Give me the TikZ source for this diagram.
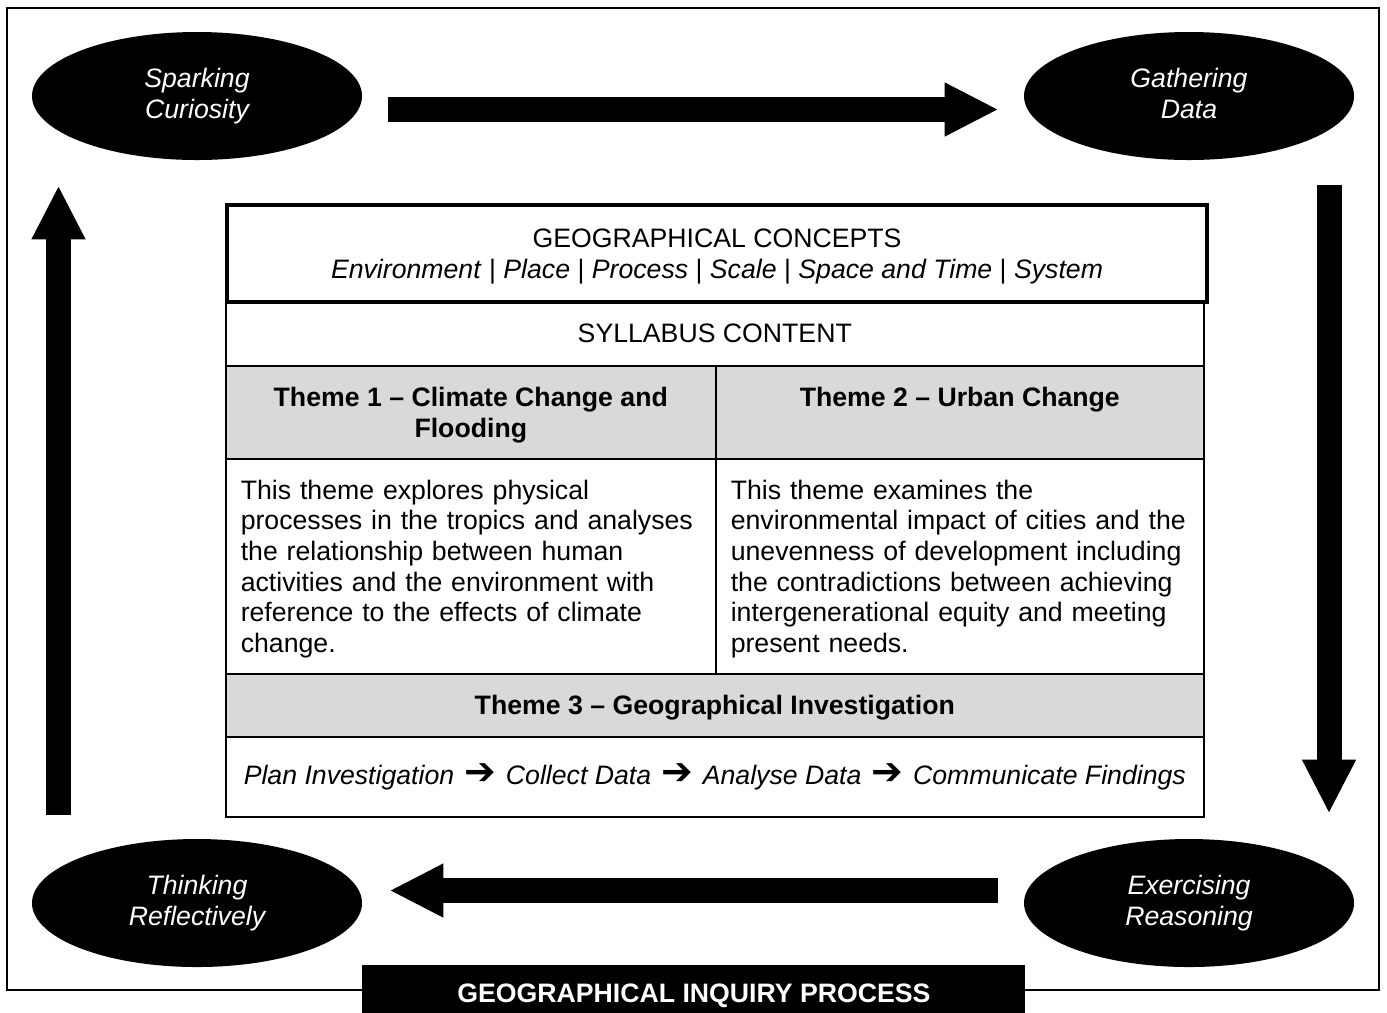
\documentclass[tikz,border=0pt]{standalone}
\usepackage{xcolor}
\usepackage{fontspec}
\setmainfont{Liberation Sans}
\newfontfamily\symfont{DejaVu Sans}
\usepackage{tikz}
\usetikzlibrary{arrows.meta,shapes.geometric,calc,positioning}
\definecolor{themegrey}{HTML}{D9D9D9}
\newcommand{\steparrow}{\hspace{4.5pt}{\symfont\bfseries\fontsize{17}{17}\selectfont ➔}\hspace{4.5pt}}

\begin{document}
\begin{tikzpicture}[x=0.45pt, y=-0.45pt,
    font=\fontsize{12}{13.8}\selectfont,
    stage/.style={ellipse, fill=black, text=white, font=\fontsize{12}{13.8}\selectfont\itshape,
        align=center, text depth=2.6pt, minimum width=148.5pt, minimum height=57.6pt, inner sep=0pt},
    bigarrow/.style={line width=11.25pt, -{Triangle[length=24.3pt, width=22.5pt]}},
    cell/.style={draw, line width=0.7pt, anchor=north west, inner sep=0pt},
    headcell/.style={cell, fill=themegrey, font=\fontsize{12}{13.8}\selectfont\bfseries, align=center, text depth=0pt},
    textcell/.style={cell, align=left, text depth=69pt, inner xsep=6.75pt, minimum height=96.75pt}]
    \useasboundingbox (0,0) rectangle (1387,1012);
    % Draw the frame
    \draw[line width=0.7pt] (7,8) rectangle (1379,990);

    % Draw the inquiry stages
    \node[stage] (spark) at (197,96) {Sparking\\Curiosity};
    \node[stage] (gather) at (1189,96) {Gathering\\Data};
    \node[stage] (reason) at (1189,903) {Exercising\\Reasoning};
    \node[stage] (reflect) at (197,903) {Thinking\\Reflectively};

    \draw[bigarrow] ($(spark.east)+(26,13.5)$) -- ($(gather.west)+(-25,13.5)$);
    \draw[bigarrow] ($(gather.south)+(140,25)$) -- ($(reason.north)+(140,-25)$);
    \draw[bigarrow] ($(reason.west)+(-26,-12.5)$) -- ($(reflect.east)+(27,-12.5)$);
    \draw[bigarrow] ($(reflect.north)+(-138.5,-24)$) -- ($(spark.south)+(-138.5,25)$);

    % Draw the syllabus table
    \node[draw, line width=1.8pt, anchor=north west, inner sep=0pt, align=center, text depth=0pt,
        minimum width=441pt, minimum height=43.65pt] (concepts) at (225,203)
        {GEOGRAPHICAL CONCEPTS\\\textit{Environment} | \textit{Place} | \textit{Process} | \textit{Scale} | \textit{Space and Time} | \textit{System}};
    \node[cell, minimum width=440.1pt, minimum height=29.25pt] (syllabus) at (225,300) {SYLLABUS CONTENT};
    \node[headcell, minimum width=220.5pt, minimum height=41.85pt] (themeA) at (225,365)
        {Theme 1 -- Climate Change and\\Flooding};
    \node[headcell, minimum width=219.6pt, minimum height=41.85pt] (themeB) at (715,365)
        {Theme 2 -- Urban Change\\\mbox{}};
    \node[textcell, text width=207pt] (textA) at (225,458)
        {This theme explores physical\\processes in the tropics and analyses\\the relationship between human\\activities and the environment with\\reference to the effects of climate\\change.};
    \node[textcell, text width=206.1pt] (textB) at (715,458)
        {This theme examines the\\environmental impact of cities and the\\unevenness of development including\\the contradictions between achieving\\intergenerational equity and meeting\\present needs.};
    \node[headcell, minimum width=440.1pt, minimum height=28.35pt] (themeC) at (225,673)
        {Theme 3 -- Geographical Investigation};
    \node[cell, minimum width=440.1pt, minimum height=36pt] (steps) at (225,736)
        {\textit{Plan Investigation}\steparrow\textit{Collect Data}\steparrow\textit{Analyse Data}\steparrow\textit{Communicate Findings}};

    % Draw the label
    \node[fill=black, text=white, font=\fontsize{12}{13.8}\selectfont\bfseries, anchor=north west,
        inner sep=0pt, minimum width=298.35pt, minimum height=27pt] (inquiry) at (362,965)
        {GEOGRAPHICAL INQUIRY PROCESS};
\end{tikzpicture}
\end{document}
